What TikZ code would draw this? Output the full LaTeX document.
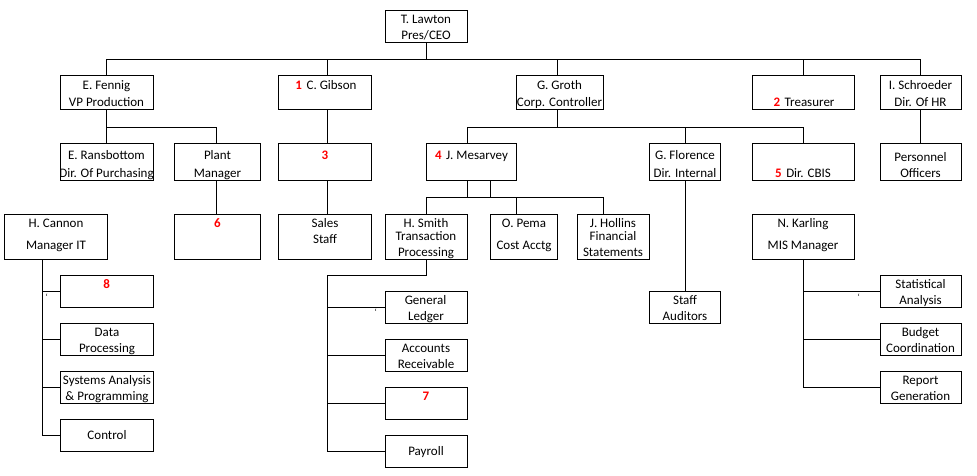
\documentclass[tikz,border=0pt]{standalone}
\usepackage{fontspec}
\setmainfont{Carlito}
\usepackage{xcolor}
\newcommand\rednum[1]{\textcolor{red}{\bfseries #1}}
\begin{document}
\begin{tikzpicture}[x=1pt,y=-1pt,
  bx/.style={draw,line width=1pt,inner sep=0pt,fill=white},
  tx/.style={anchor=base,inner sep=0pt,font=\fontsize{13}{16}\selectfont},
  tick/.style={inner sep=0pt,font=\fontsize{9}{10}\selectfont},
  ln/.style={line width=1pt}]
\useasboundingbox[fill=white] (0,0) rectangle (977,476);
\newcommand\bxx[5]{\node[bx,minimum width={#4-#2},minimum height={#5-#3}] (#1) at ({(#2+#4)/2},{(#3+#5)/2}) {};}
% boxes
\bxx{ceo}{385}{11}{467}{43}
\bxx{fen}{60}{76}{153}{110}
\bxx{gib}{278}{76}{371}{110}
\bxx{gro}{516}{76}{603}{110}
\bxx{tre}{752}{76}{854}{110}
\bxx{sch}{880}{76}{961}{110}
\bxx{ran}{60}{144}{153}{180}
\bxx{pla}{174}{144}{260}{180}
\bxx{bthree}{278}{144}{371}{180}
\bxx{mes}{426}{144}{516}{180}
\bxx{flo}{649}{144}{720}{180}
\bxx{cbi}{752}{144}{854}{180}
\bxx{per}{880}{144}{961}{180}
\bxx{can}{4}{214}{107}{259}
\bxx{bsix}{174}{214}{260}{259}
\bxx{sal}{278}{214}{371}{259}
\bxx{smi}{385}{214}{467}{259}
\bxx{pem}{490}{214}{557}{259}
\bxx{hol}{577}{214}{649}{259}
\bxx{kar}{752}{214}{854}{259}
\bxx{aud}{649}{291}{720}{323}
\bxx{beight}{60}{275}{153}{307}
\bxx{dat}{60}{323}{153}{355}
\bxx{sys}{60}{371}{153}{403}
\bxx{con}{60}{419}{153}{451}
\bxx{gen}{385}{291}{467}{323}
\bxx{acc}{385}{339}{467}{371}
\bxx{bseven}{385}{387}{467}{419}
\bxx{pay}{385}{435}{467}{467}
\bxx{sta}{880}{275}{961}{307}
\bxx{bud}{880}{323}{961}{355}
\bxx{rep}{880}{371}{961}{403}
% bus coordinates
\coordinate (b0) at (0,59.3);
\coordinate (g1) at (0,127.3);
\coordinate (m1) at (0,197.5);
\coordinate (cs) at (42.3,259);
\coordinate (s1) at (327.3,275.3);
% connectors
\draw[ln] (ceo.south) -- (ceo.south |- b0);
\draw[ln] (fen.north) |- (b0 -| sch.north) -- (sch.north);
\draw[ln] ([xshift=2.5]gib.north) -- ([xshift=2.5]gib.north |- b0);
\draw[ln] ([xshift=-2.2]gro.north) -- ([xshift=-2.2]gro.north |- b0);
\draw[ln] (tre.north) -- (tre.north |- b0);
\draw[ln] (fen.south) -- (ran.north);
\draw[ln] (fen.south |- g1) -| ([xshift=-0.7]pla.north);
\draw[ln] ([xshift=-0.7]pla.south) -- ([xshift=-0.7]bsix.north);
\draw[ln] ([xshift=2.5]gib.south) -- ([xshift=2.5]bthree.north);
\draw[ln] ([xshift=2.5]bthree.south) -- ([xshift=2.5]sal.north);
\draw[ln] ([xshift=-2.2]gro.south) -- ([xshift=-2.2]gro.south |- g1);
\draw[ln] ([xshift=-3.7]mes.north) |- (cbi.north |- g1) -- (cbi.north);
\draw[ln] ([xshift=0.8]flo.north) -- ([xshift=0.8]flo.north |- g1);
\draw[ln] ([xshift=0.8]flo.south) -- ([xshift=0.8]aud.north);
\draw[ln] (sch.south) -- (per.north);
\draw[ln] ([xshift=-3.3]mes.south) -- ([xshift=-3.3]mes.south |- m1);
\draw[ln] ([xshift=19]mes.south) -- ([xshift=19]mes.south |- m1);
\draw[ln] (smi.north) |- ([xshift=-9.7]hol.north |- m1) -- ([xshift=-9.7]hol.north);
\draw[ln] ([xshift=-7.2]pem.north) -- ([xshift=-7.2]pem.north |- m1);
\draw[ln] (cs) |- (con.west);
\draw[ln] (beight.west) -- (beight.west -| cs);
\draw[ln] (dat.west) -- (dat.west -| cs);
\draw[ln] (sys.west) -- (sys.west -| cs);
\draw[ln] (smi.south) |- (s1) |- (pay.west);
\draw[ln] (gen.west) -- (gen.west -| s1);
\draw[ln] (acc.west) -- (acc.west -| s1);
\draw[ln] (bseven.west) -- (bseven.west -| s1);
\draw[ln] (kar.south) |- (rep.west);
\draw[ln] (sta.west) -- (sta.west -| kar.south);
\draw[ln] (bud.west) -- (bud.west -| kar.south);
% texts
\node[tx] (t1) at (426,24) {T. Lawton};
\node[tx] (t2) at (426,40) {Pres/CEO};
\node[tx] (t3) at (106.5,90) {E. Fennig};
\node[tx] (t4) at (106.5,107) {VP Production};
\node[tx] (t5) at (326,90) {\rednum{1}\hspace{0.35em}C. Gibson};
\node[tx] (t6) at (559.5,90) {G. Groth};
\node[tx] (t7) at (559.5,107) {Corp. Controller};
\node[tx] (t8) at (804,107) {\rednum{2}\hspace{0.35em}Treasurer};
\node[tx] (t9) at (920.5,90) {I. Schroeder};
\node[tx] (t10) at (920.5,107) {Dir. Of HR};
\node[tx] (t11) at (106.5,160) {E. Ransbottom};
\node[tx] (t12) at (106.5,177) {Dir. Of Purchasing};
\node[tx] (t13) at (217.5,160) {Plant};
\node[tx] (t14) at (217.5,177) {Manager};
\node[tx] (t15) at (325,160) {\rednum{3}};
\node[tx] (t16) at (471.5,160) {\rednum{4}\hspace{0.35em}J. Mesarvey};
\node[tx] (t17) at (685,160) {G. Florence};
\node[tx] (t18) at (685,177) {Dir. Internal};
\node[tx] (t19) at (803,177) {\rednum{5}\hspace{0.35em}Dir. CBIS};
\node[tx] (t20) at (920.5,161) {Personnel};
\node[tx] (t21) at (920.5,177) {Officers};
\node[tx] (t22) at (56,227) {H. Cannon};
\node[tx] (t23) at (56,249) {Manager IT};
\node[tx] (t24) at (217.5,227) {\rednum{6}};
\node[tx] (t25) at (325,227) {Sales};
\node[tx] (t26) at (325,243) {Staff};
\node[tx] (t27) at (426,227) {H. Smith};
\node[tx] (t28) at (426,240) {Transaction};
\node[tx] (t29) at (426,256) {Processing};
\node[tx] (t30) at (524,227) {O. Pema};
\node[tx] (t31) at (524,249) {Cost Acctg};
\node[tx] (t32) at (613,227) {J. Hollins};
\node[tx] (t33) at (613,240) {Financial};
\node[tx] (t34) at (613,256) {Statements};
\node[tx] (t35) at (803,227) {N. Karling};
\node[tx] (t36) at (803,249) {MIS Manager};
\node[tx] (t37) at (685,304) {Staff};
\node[tx] (t38) at (685,320) {Auditors};
\node[tx] (t39) at (106.7,288) {\rednum{8}};
\node[tx] (t40) at (107,336) {Data};
\node[tx] (t41) at (107,352) {Processing};
\node[tx] (t42) at (107,384) {Systems Analysis};
\node[tx] (t43) at (107,400) {\& Programming};
\node[tx] (t44) at (107,439.3) {Control};
\node[tx] (t45) at (425.5,304) {General};
\node[tx] (t46) at (426,320) {Ledger};
\node[tx] (t47) at (426,352) {Accounts};
\node[tx] (t48) at (426,368) {Receivable};
\node[tx] (t49) at (426,400) {\rednum{7}};
\node[tx] (t50) at (426,455.3) {Payroll};
\node[tx] (t51) at (920.5,288) {Statistical};
\node[tx] (t52) at (920.5,304) {Analysis};
\node[tx] (t53) at (920.5,336) {Budget};
\node[tx] (t54) at (920.5,352) {Coordination};
\node[tx] (t55) at (920.5,384) {Report};
\node[tx] (t56) at (920.5,400) {Generation};
\node[tick] (k1) at (46.7,297) {`};
\node[tick] (k2) at (375.7,312.5) {`};
\node[tick] (k3) at (858.7,297) {`};
\end{tikzpicture}
\end{document}
